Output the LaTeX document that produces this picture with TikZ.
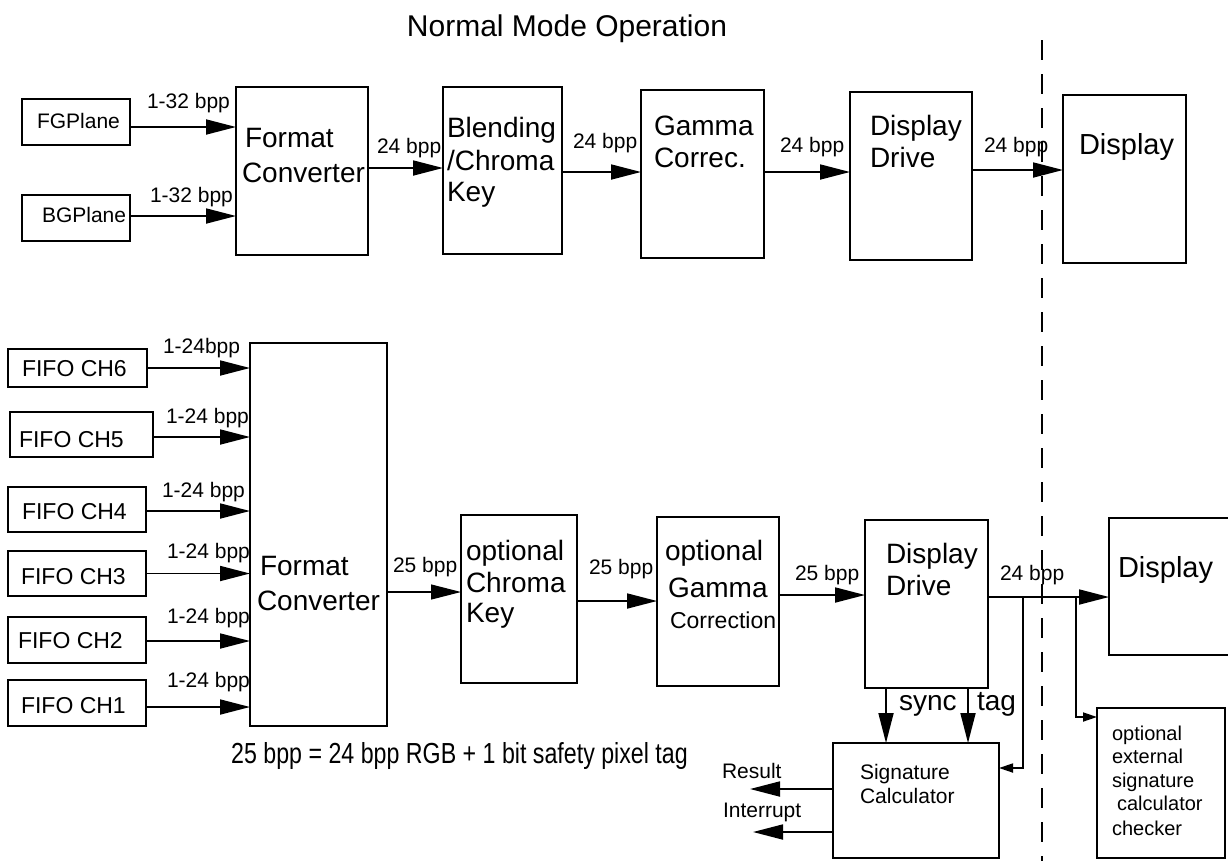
\documentclass[tikz,border=0pt]{standalone}
\usepackage{fontspec}
\setmainfont{Liberation Sans}
\newfontfamily\condfont{Liberation Sans}[FakeStretch=0.8]
\usetikzlibrary{arrows.meta}
\begin{document}
\begin{tikzpicture}[x=1pt,y=-1pt,
  box/.style={draw, line width=1.8pt, inner sep=0pt, outer sep=0pt, anchor=north west},
  lbl/.style={anchor=base west, inner sep=0pt, outer sep=0pt, font=\fontsize{#1}{#1}\selectfont},
  arr/.style={line width=1.8pt, -{Triangle[length=30pt,width=15pt]}},
  sarr/.style={line width=1.8pt, -{Triangle[length=14pt,width=9pt]}},
  sep/.style={line width=1.8pt, dash pattern=on 20pt off 14pt}]
\useasboundingbox (0,0) rectangle (1228,860);

% ---------- title ----------
\node[anchor=base, inner sep=0pt, font=\fontsize{30}{30}\selectfont] (title) at (567,36) {Normal Mode Operation};

% ---------- top row boxes ----------
\node[box, minimum width=108pt, minimum height=46pt] (fg) at (22,99) {};
\node[box, minimum width=108pt, minimum height=46pt] (bg) at (22,195) {};
\node[box, minimum width=132pt, minimum height=168pt] (fc1) at (236,87) {};
\node[box, minimum width=119pt, minimum height=167pt] (bl) at (443,87) {};
\node[box, minimum width=123pt, minimum height=168pt] (gm) at (641,90) {};
\node[box, minimum width=122pt, minimum height=168pt] (dd1) at (850,92) {};
\node[box, minimum width=123pt, minimum height=168pt] (dsp1) at (1063,95) {};

\node[lbl=21] (tfg) at (37,128) {FGPlane};
\node[lbl=21] (tbg) at (42,222) {BGPlane};
\node[lbl=28] (tfc1a) at (245,147) {Format};
\node[lbl=28] (tfc1b) at (242,182) {Converter};
\node[lbl=28] (tbla) at (447,137) {Blending};
\node[lbl=28] (tblb) at (447,170) {/Chroma};
\node[lbl=28] (tblc) at (447,201) {Key};
\node[lbl=28] (tgma) at (654,135) {Gamma};
\node[lbl=28] (tgmb) at (654,167) {Correc.};
\node[lbl=28] (tdd1a) at (870,135) {Display};
\node[lbl=28] (tdd1b) at (870,167) {Drive};
\node[lbl=29] (tdsp1) at (1079,154) {Display};

% top arrows
\draw[arr] ([yshift=-5pt]fg.east) -- ([yshift=-5pt]fg.east -| fc1.west);
\draw[arr] ([yshift=2pt]bg.east) -- ([yshift=2pt]bg.east -| fc1.west);
\draw[arr] ([yshift=3pt]fc1.east) -- ([yshift=3pt]fc1.east -| bl.west);
\draw[arr] ([yshift=-1.5pt]bl.east) -- ([yshift=-1.5pt]bl.east -| gm.west);
\draw[arr] ([yshift=2pt]gm.east) -- ([yshift=2pt]gm.east -| dd1.west);
\draw[arr] ([yshift=6pt]dd1.east) -- ([yshift=6pt]dd1.east -| dsp1.west);

\node[lbl=21] (l1) at (147,108) {1-32 bpp};
\node[lbl=21] (l2) at (150,202) {1-32 bpp};
\node[lbl=21] (l3) at (377,153) {24 bpp};
\node[lbl=21] (l4) at (573,148) {24 bpp};
\node[lbl=21] (l5) at (780,152) {24 bpp};
\node[lbl=21] (l6) at (984,152) {24 bpp};

% ---------- bottom row boxes ----------
\node[box, minimum width=139pt, minimum height=38pt] (ch6) at (8,349) {};
\node[box, minimum width=143pt, minimum height=45pt] (ch5) at (10,412) {};
\node[box, minimum width=138pt, minimum height=45pt] (ch4) at (8,487) {};
\node[box, minimum width=138pt, minimum height=45pt] (ch3) at (8,551) {};
\node[box, minimum width=138pt, minimum height=46pt] (ch2) at (8,617) {};
\node[box, minimum width=138pt, minimum height=46pt] (ch1) at (8,680) {};
\node[box, minimum width=137pt, minimum height=383pt] (fc2) at (250,343) {};
\node[box, minimum width=116pt, minimum height=168pt] (ock) at (461,515) {};
\node[box, minimum width=122pt, minimum height=169pt] (ogc) at (657,517) {};
\node[box, minimum width=123pt, minimum height=168pt] (dd2) at (865,520) {};
\node[box, minimum width=128pt, minimum height=137pt] (dsp2) at (1109,518) {};
\node[box, minimum width=166pt, minimum height=115pt] (sig) at (833,743) {};
\node[box, minimum width=128pt, minimum height=150pt] (ext) at (1097,708) {};

\node[lbl=23] (tch6) at (22,376) {FIFO CH6};
\node[lbl=23] (tch5) at (19,447) {FIFO CH5};
\node[lbl=23] (tch4) at (22,519) {FIFO CH4};
\node[lbl=23] (tch3) at (21,584) {FIFO CH3};
\node[lbl=23] (tch2) at (18,648) {FIFO CH2};
\node[lbl=23] (tch1) at (21,713) {FIFO CH1};
\node[lbl=28] (tfc2a) at (260,575) {Format};
\node[lbl=28] (tfc2b) at (257,610) {Converter};
\node[lbl=28] (tocka) at (466,560) {optional};
\node[lbl=28] (tockb) at (466,592) {Chroma};
\node[lbl=28] (tockc) at (466,622) {Key};
\node[lbl=28] (togca) at (665,560) {optional};
\node[lbl=28] (togcb) at (668,597) {Gamma};
\node[lbl=23] (togcc) at (670,628) {Correction};
\node[lbl=28] (tdd2a) at (886,563) {Display};
\node[lbl=28] (tdd2b) at (886,595) {Drive};
\node[lbl=29] (tdsp2) at (1118,577) {Display};
\node[lbl=21] (tsiga) at (860,779) {Signature};
\node[lbl=21] (tsigb) at (860,803) {Calculator};
\node[lbl=20] (texta) at (1112,740) {optional};
\node[lbl=20] (textb) at (1112,763) {external};
\node[lbl=20] (textc) at (1112,787) {signature};
\node[lbl=20] (textd) at (1117,810) {calculator};
\node[lbl=20] (texte) at (1112,835) {checker};

% FIFO arrows
\draw[arr] (ch6.east) -- (ch6.east -| fc2.west);
\draw[arr] ([yshift=-2.5pt]ch5.east) -- ([yshift=-2.5pt]ch5.east -| fc2.west);
\draw[arr] ([yshift=-1.5pt]ch4.east) -- ([yshift=-1.5pt]ch4.east -| fc2.west);
\draw[arr] (ch3.east) -- (ch3.east -| fc2.west);
\draw[arr] ([yshift=-1pt]ch2.east) -- ([yshift=-1pt]ch2.east -| fc2.west);
\draw[arr] ([yshift=-4pt]ch1.east) -- ([yshift=-4pt]ch1.east -| fc2.west);

\node[lbl=21] (m6) at (163,353) {1-24bpp};
\node[lbl=21] (m5) at (166,423) {1-24 bpp};
\node[lbl=21] (m4) at (162,497) {1-24 bpp};
\node[lbl=21] (m3) at (167,558) {1-24 bpp};
\node[lbl=21] (m2) at (167,623) {1-24 bpp};
\node[lbl=21] (m1) at (167,687) {1-24 bpp};

% chain arrows
\draw[line width=1.2pt, -{Triangle[length=30pt,width=15pt]}] ([yshift=7pt]ock.west -| fc2.east) -- ([yshift=7pt]ock.west);
\draw[arr] ([yshift=-2pt]ock.east) -- ([yshift=-2pt]ock.east -| ogc.west);
\draw[arr] ([yshift=6.5pt]ogc.east) -- ([yshift=6.5pt]ogc.east -| dd2.west);
\draw[arr] ([yshift=7pt]dd2.east) -- ([yshift=7pt]dd2.east -| dsp2.west);

\node[lbl=21] (n1) at (393,572) {25 bpp};
\node[lbl=21] (n2) at (589,574) {25 bpp};
\node[lbl=21] (n3) at (795,580) {25 bpp};
\node[lbl=21] (n4) at (1000,580) {24 bpp};

% branches
\coordinate (b1) at (1023,597);
\coordinate (b2) at (1076,597);
\draw[sarr] (b1) |- ([yshift=32.5pt]sig.east);
\draw[sarr] (b2) |- ([yshift=-9pt]ext.north west);

% sync / tag
\draw[arr] ([xshift=-40.5pt]dd2.south) -- ([xshift=-40.5pt]dd2.south |- sig.north);
\draw[arr] ([xshift=41.5pt]dd2.south) -- ([xshift=41.5pt]dd2.south |- sig.north);
\node[lbl=28] (tsync) at (899,710) {sync};
\node[lbl=28] (ttag) at (977,710) {tag};

% result / interrupt
\coordinate (resend) at (750,789);
\coordinate (intend) at (753,832);
\draw[arr] (resend -| sig.west) -- (resend);
\draw[arr] (intend -| sig.west) -- (intend);
\node[lbl=21] (tres) at (722,778) {Result};
\node[lbl=21] (tint) at (723,817) {Interrupt};

% caption
\node[anchor=base west, inner sep=0pt, font=\condfont\fontsize{29}{29}\selectfont] (cap) at (231,763) {25 bpp = 24 bpp RGB + 1 bit safety pixel tag};

% separator
\coordinate (septop) at (1042,40);
\coordinate (sepbot) at (1042,862);
\draw[sep] (septop) -- (sepbot);
\end{tikzpicture}
\end{document}
